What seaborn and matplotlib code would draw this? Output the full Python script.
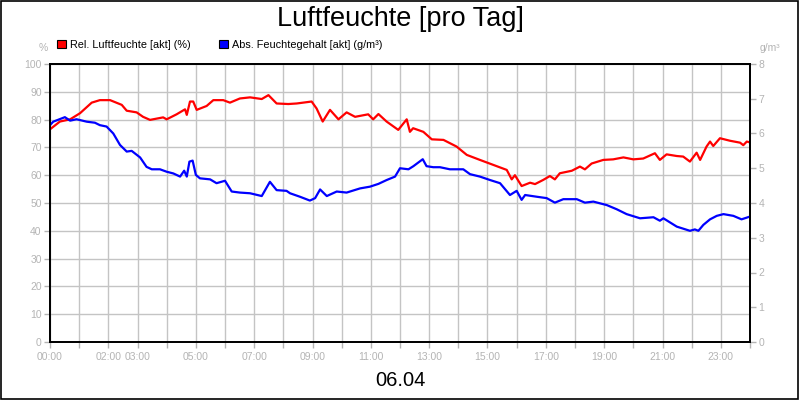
import numpy as np
import pandas as pd
import seaborn as sns
import matplotlib.pyplot as plt
from matplotlib.patches import Patch

# relative humidity (%), hour of day
rel_h = [0.0, 0.34, 0.69, 1.03, 1.43, 1.71, 2.06, 2.46, 2.63, 2.97, 3.19, 3.43, 3.88, 4.0,
         4.34, 4.63, 4.69, 4.8, 4.91, 5.03, 5.37, 5.6, 5.94, 6.17, 6.51, 6.86, 7.26, 7.49,
         7.77, 8.17, 8.46, 8.97, 9.14, 9.35, 9.6, 9.89, 10.17, 10.46, 10.91, 11.08, 11.26,
         11.54, 11.94, 12.23, 12.34, 12.45, 12.8, 13.09, 13.49, 13.94, 14.29, 14.74, 15.2,
         15.66, 15.83, 15.94, 16.17, 16.46, 16.63, 16.91, 17.14, 17.31, 17.48, 17.89, 18.17,
         18.34, 18.57, 18.97, 19.31, 19.66, 20.0, 20.34, 20.74, 20.91, 21.14, 21.49, 21.71,
         21.94, 22.17, 22.29, 22.51, 22.63, 22.74, 22.97, 23.31, 23.66, 23.77, 23.89, 24.0]
rel_v = [76.5, 79.3, 80.1, 82.3, 86.1, 87.0, 87.0, 85.3, 83.2, 82.6, 81.0, 79.9, 80.8, 80.1,
         81.9, 83.7, 81.7, 86.5, 86.5, 83.5, 84.9, 87.0, 87.0, 86.1, 87.6, 88.0, 87.4, 88.8,
         85.8, 85.6, 85.8, 86.5, 84.0, 79.3, 83.5, 80.1, 82.6, 81.0, 81.9, 80.1, 82.0,
         79.3, 76.3, 80.1, 75.6, 76.9, 75.6, 72.9, 72.7, 70.3, 67.3, 65.5, 63.7,
         61.9, 58.5, 60.0, 56.1, 57.3, 56.8, 58.3, 59.7, 58.5, 60.7, 61.6, 63.1,
         62.1, 64.2, 65.5, 65.7, 66.4, 65.7, 66.0, 67.9, 65.5, 67.5, 66.9, 66.7,
         64.9, 68.1, 65.5, 70.3, 72.1, 70.5, 73.3, 72.4, 71.7, 70.8, 72.1, 71.8]

# absolute humidity content (g/m3)
abs_h = [0.0, 0.11, 0.51, 0.69, 0.91, 1.26, 1.54, 1.71, 1.94, 2.17, 2.4, 2.63, 2.8, 3.09,
         3.31, 3.49, 3.77, 4.0, 4.23, 4.46, 4.6, 4.69, 4.78, 4.89, 5.0, 5.14, 5.49, 5.71,
         6.0, 6.23, 6.51, 6.86, 7.26, 7.54, 7.77, 8.11, 8.23, 8.57, 8.91, 9.09, 9.26, 9.49,
         9.83, 10.17, 10.63, 10.97, 11.26, 11.54, 11.83, 12.0, 12.29, 12.46, 12.78, 12.91,
         13.14, 13.37, 13.71, 14.17, 14.4, 14.74, 15.09, 15.43, 15.77, 16.0, 16.17, 16.29,
         16.69, 17.03, 17.31, 17.6, 18.06, 18.34, 18.63, 19.09, 19.43, 19.77, 20.23, 20.69,
         20.91, 21.03, 21.49, 21.94, 22.11, 22.23, 22.4, 22.63, 22.86, 23.09, 23.43, 23.71, 24.0]
abs_v = [6.24, 6.34, 6.47, 6.37, 6.41, 6.34, 6.31, 6.24, 6.2, 6.0, 5.67, 5.48, 5.5, 5.31,
         5.04, 4.97, 4.97, 4.9, 4.85, 4.76, 4.93, 4.76, 5.19, 5.22, 4.81, 4.71, 4.68, 4.57,
         4.64, 4.33, 4.3, 4.28, 4.2, 4.61, 4.37, 4.35, 4.28, 4.18, 4.07, 4.14, 4.39, 4.2,
         4.33, 4.3, 4.42, 4.47, 4.55, 4.66, 4.76, 5.0, 4.97, 5.06, 5.26, 5.06,
         5.03, 5.03, 4.97, 4.97, 4.83, 4.76, 4.66, 4.57, 4.23, 4.35, 4.09, 4.23,
         4.18, 4.14, 4.01, 4.11, 4.11, 4.01, 4.04, 3.94, 3.82, 3.68, 3.56, 3.59,
         3.49, 3.56, 3.32, 3.2, 3.24, 3.2, 3.37, 3.53, 3.63, 3.68, 3.63, 3.53, 3.61]

tick_hours = list(range(25))
tick_labels = ['00:00', '', '02:00', '03:00', '', '05:00', '', '07:00', '', '09:00', '',
               '11:00', '', '13:00', '', '15:00', '', '17:00', '', '19:00', '', '21:00',
               '', '23:00', '']

sns.set_style("white")
plt.rcParams['font.family'] = ['Liberation Sans', 'DejaVu Sans']
plt.rcParams['text.color'] = 'black'

rel = pd.DataFrame({'hour': rel_h, 'val': rel_v})
absd = pd.DataFrame({'hour': abs_h, 'val': abs_v})

fig = plt.figure(figsize=(8, 4), dpi=100)
ax = fig.add_axes([0.0625, 0.145, 0.875, 0.695])
ax2 = ax.twinx()

grey = '#b4b4b4'
sns.lineplot(data=rel, x='hour', y='val', ax=ax, color='#ff0000', lw=1.6,
             estimator=None, sort=False)
sns.lineplot(data=absd, x='hour', y='val', ax=ax2, color='#0000ff', lw=1.6,
             estimator=None, sort=False)

ax.set(xlim=(0, 24), ylim=(0, 100), xlabel='', ylabel='')
ax2.set(ylim=(0, 8), xlabel='', ylabel='')
ax.set_yticks(range(0, 101, 10))
ax2.set_yticks(range(0, 9))
ax.set_xticks(tick_hours)
ax.set_xticklabels(tick_labels)
ax.grid(True, color='#c4c4c4', lw=1)
ax2.grid(False)
ax.set_axisbelow(True)

for a in (ax, ax2):
    a.tick_params(colors=grey, labelsize=7.5, length=4, width=1, direction='out')
    for s in a.spines.values():
        s.set_color('black')
        s.set_linewidth(1.3)
ax.tick_params(axis='y', left=True, pad=2)
ax.tick_params(axis='x', bottom=True, pad=3)
ax2.tick_params(axis='y', right=True, pad=2)

fig.text(0.5, 0.953, 'Luftfeuchte [pro Tag]', ha='center', va='center', fontsize=19.5,
         color='black')
fig.text(0.5, 0.05, '06.04', ha='center', va='center', fontsize=14.5, color='black')
fig.text(0.054, 0.88, '%', ha='center', va='center', fontsize=7.5, color=grey)
fig.text(0.963, 0.88, 'g/m³', ha='center', va='center', fontsize=7.5, color=grey)

handles = [Patch(facecolor='#ff0000', edgecolor='black', lw=0.8),
           Patch(facecolor='#0000ff', edgecolor='black', lw=0.8)]
fig.legend(handles, ['Rel. Luftfeuchte [akt] (%)', 'Abs. Feuchtegehalt [akt] (g/m³)'],
           loc='center left', bbox_to_anchor=(0.065, 0.888), ncol=2, frameon=False,
           fontsize=7.8, handlelength=0.8, handleheight=0.8, handletextpad=0.4,
           columnspacing=2.6, borderpad=0, labelcolor='black')

fig.patches.append(plt.Rectangle((0.001, 0.002), 0.997, 0.996, transform=fig.transFigure,
                                 fill=False, edgecolor='black', lw=1.2))
fig.savefig('out.png', dpi=100)
